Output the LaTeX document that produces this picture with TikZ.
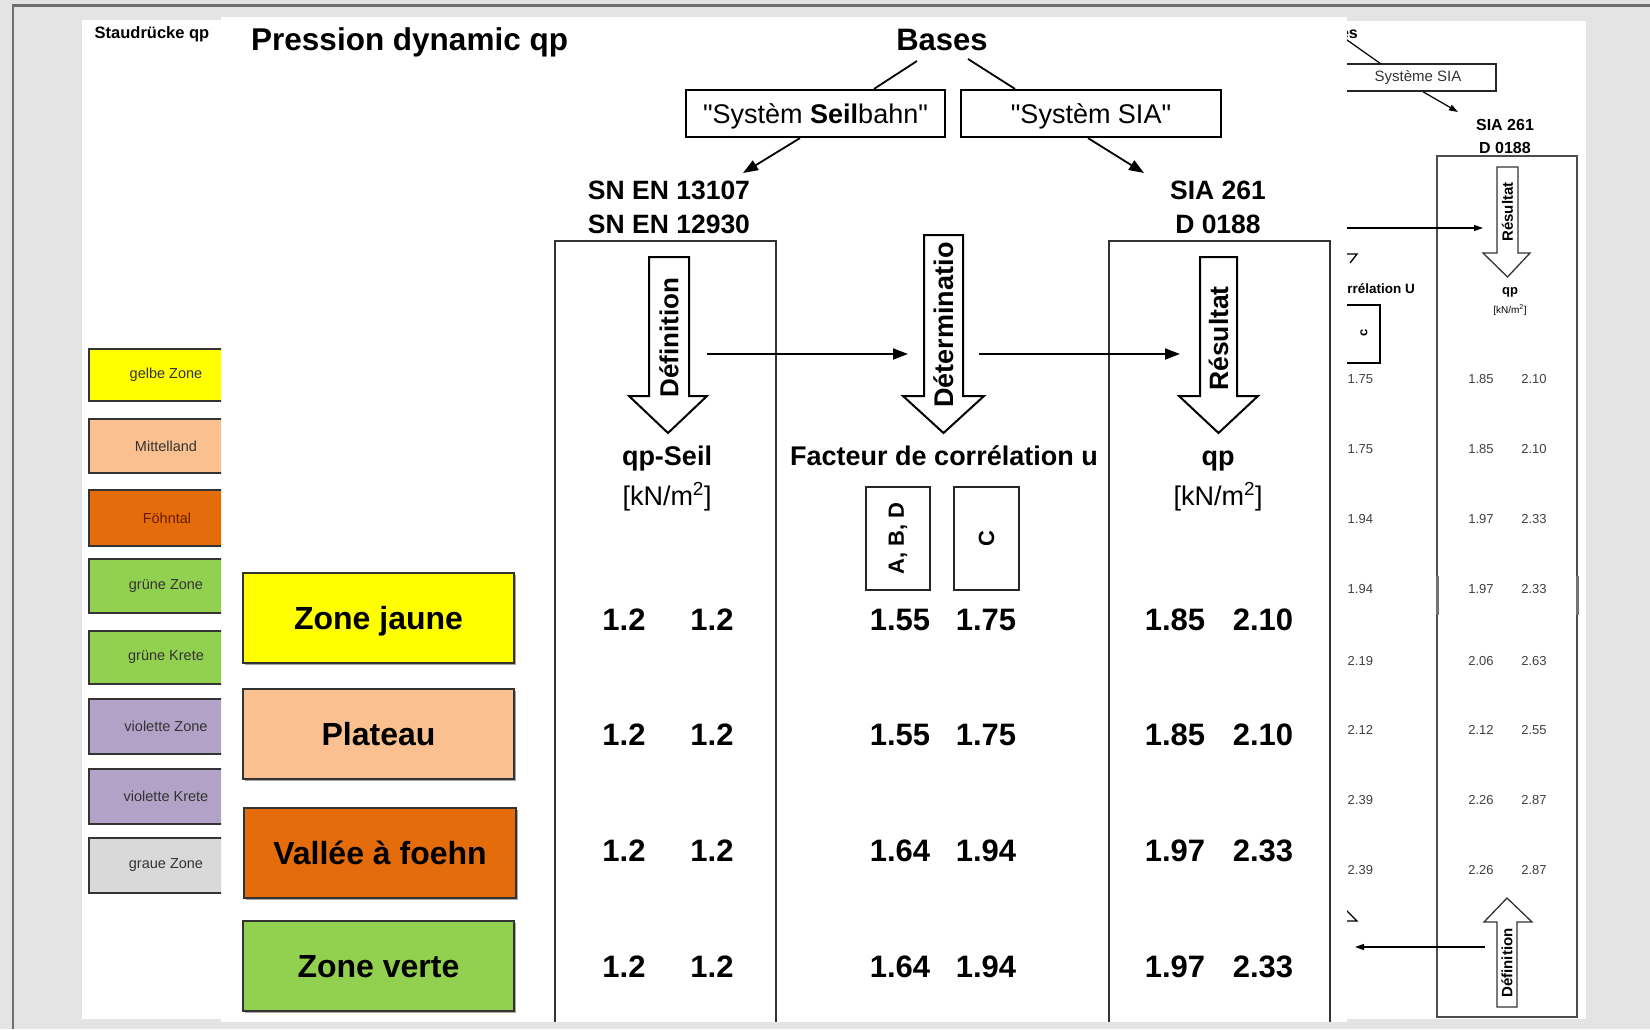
\documentclass[tikz,border=0pt]{standalone}
\usepackage{fontspec}
\setmainfont{Liberation Sans}[Ligatures=TeXOff]
\usetikzlibrary{arrows.meta,calc,shadows}
\definecolor{bggrey}{HTML}{E4E4E4}
\definecolor{frameg}{HTML}{6E6E6E}
\definecolor{zyellow}{HTML}{FFFF00}
\definecolor{zpeach}{HTML}{FAC090}
\definecolor{zorange}{HTML}{E46C0A}
\definecolor{zgreen}{HTML}{92D050}
\definecolor{zviolet}{HTML}{B3A2C7}
\definecolor{zgrey}{HTML}{D9D9D9}
\definecolor{ftxt}{HTML}{6A1A00}
\newcommand{\fsz}[1]{\fontsize{#1}{#1}\selectfont}
\begin{document}
\begin{tikzpicture}[x=1pt,y=-1pt,
  lab/.style={inner sep=0pt},
  conn/.style={line width=1.8pt, -{Triangle[length=15pt,width=11pt]}},
  thinconn/.style={line width=1.2pt, -{Triangle[length=9pt,width=6pt]}},
  blk/.style={draw=black, line width=2pt, fill=white, line join=miter},
  sblk/.style={draw=black!80, line width=1.3pt, fill=white},
  colline/.style={draw=black!80, line width=1.8pt},
  zonebox/.style={draw=black!80, line width=2pt, minimum width=271pt, minimum height=90pt, inner sep=0pt,
     font=\fsz{32}\bfseries, text height=23pt, text depth=0pt,
     drop shadow={shadow xshift=2pt, shadow yshift=-2pt, fill=black!35, opacity=1}},
  legline/.style={draw=black!80, line width=1.6pt},
  legtext/.style={inner sep=0pt, font=\fsz{14.5}, text=black!80},
  sysbox/.style={draw=black, line width=2.2pt, minimum height=47pt, inner sep=0pt, font=\fsz{27}, text height=19.3pt, text depth=0pt},
  num/.style={inner sep=0pt, font=\fsz{31}\bfseries, anchor=base},
  hdr/.style={inner sep=0pt, font=\fsz{26.5}\bfseries, anchor=base},
  smallbox/.style={draw=black!85, line width=1.8pt, minimum width=64pt, minimum height=103pt, inner sep=0pt},
  rnum/.style={inner sep=0pt, font=\fsz{13}, text=black!75, anchor=base},
]
% background
\fill[bggrey] (0,0) rectangle (1650,1029);
\useasboundingbox (0,0) rectangle (1650,1029);
\draw[frameg, line width=2.5pt] (13,1029) -- (13,5.5) -- (1650,5.5);
\fill[white] (82,20) rectangle (221,1019);
\fill[white] (221,17) rectangle (1347,1022);
\fill[white] (1347,21) rectangle (1586,1019);

% ---------------- left panel
\begin{scope}
\clip (82,20) rectangle (221,1019);
\node[lab, font=\fsz{16.5}\bfseries, anchor=base] (stau) at (152,38) {Staudrücke qp};
\draw[legline, fill=zyellow] (89,349) rectangle (260,401);
\node[legtext] (lg1) at (166,375) {gelbe Zone};
\draw[legline, fill=zpeach] (89,419) rectangle (260,473);
\node[legtext] (lg2) at (166,446) {Mittelland};
\draw[legline, fill=zorange] (89,490) rectangle (260,546);
\node[legtext, text=ftxt] (lg3) at (167,518) {Föhntal};
\draw[legline, fill=zgreen] (89,559) rectangle (260,613);
\node[legtext] (lg4) at (166,586) {grüne Zone};
\draw[legline, fill=zgreen] (89,631) rectangle (260,684);
\node[legtext] (lg5) at (166,657.5) {grüne Krete};
\draw[legline, fill=zviolet] (89,699) rectangle (260,754);
\node[legtext] (lg6) at (166,726.5) {violette Zone};
\draw[legline, fill=zviolet] (89,769) rectangle (260,824);
\node[legtext] (lg7) at (166,796.5) {violette Krete};
\draw[legline, fill=zgrey] (89,838) rectangle (260,893);
\node[legtext] (lg8) at (166,865.5) {graue Zone};
\end{scope}

% ---------------- main panel
\begin{scope}
\clip (221,17) rectangle (1347,1022);
\node[lab, font=\fsz{31.5}\bfseries, anchor=base west] (title) at (251,50) {Pression dynamic qp};
\node[lab, font=\fsz{31}\bfseries, anchor=base] (bases) at (942,50) {Bases};
\node[sysbox, minimum width=259pt] (seil) at (815.5,113.5) {"Systèm \textbf{Seil}bahn"};
\node[sysbox, minimum width=260pt] (sia) at (1091,113.5) {"Systèm SIA"};
\coordinate (bL) at (917,61);
\coordinate (bR) at (968,59);
\draw[line width=1.8pt] (bL) -- ([xshift=58.5pt]seil.north);
\draw[line width=1.8pt] (bR) -- ([xshift=-76pt]sia.north);
\coordinate (tipL) at (743,173);
\coordinate (tipR) at (1144,173);
\draw[conn] ([xshift=-15.5pt]seil.south) -- (tipL);
\draw[conn] ([xshift=-3pt]sia.south) -- (tipR);

\node[hdr] (sn1) at (669,199) {SN EN 13107};
\node[hdr] (sn2) at (669,233) {SN EN 12930};
\node[hdr] (sia1) at (1218,199) {SIA 261};
\node[hdr] (sia2) at (1218,233) {D 0188};

\draw[colline] (555,1022) -- (555,241) -- (776,241) -- (776,1022);
\draw[colline] (1109,1022) -- (1109,241) -- (1330,241) -- (1330,1022);

\draw[blk] (649,257) -- (689,257) -- (689,396) -- (707,396) -- (668,433) -- (629,396) -- (649,396) -- cycle;
\draw[blk] (924,235) -- (963,235) -- (963,396) -- (984,396) -- (943.5,433) -- (903,396) -- (924,396) -- cycle;
\draw[blk] (1200,257) -- (1237,257) -- (1237,396) -- (1258,396) -- (1218.5,433) -- (1179,396) -- (1200,396) -- cycle;
\node[lab, rotate=90, font=\fsz{26}\bfseries] (tdef) at (669,337.5) {Définition};
\node[lab, rotate=90, font=\fsz{27}\bfseries] (tdet) at (943.5,325) {Déterminatio};
\node[lab, rotate=90, font=\fsz{26.5}\bfseries] (tres) at (1218.5,338.5) {Résultat};

\coordinate (h1s) at (707,354);
\coordinate (h1e) at (908,354);
\coordinate (h2s) at (979,354);
\coordinate (h2e) at (1180,354);
\draw[conn] (h1s) -- (h1e);
\draw[conn] (h2s) -- (h2e);

\node[lab, font=\fsz{27}\bfseries, anchor=base] (qpseil) at (667,465) {qp-Seil};
\node[lab, font=\fsz{27}, anchor=base] (unit1) at (667,505) {[kN/m\textsuperscript{2}]};
\node[lab, font=\fsz{27}\bfseries, anchor=base] (fact) at (944,465) {Facteur de corrélation u};
\node[lab, font=\fsz{27}\bfseries, anchor=base] (qp) at (1218,465) {qp};
\node[lab, font=\fsz{27}, anchor=base] (unit2) at (1218,505) {[kN/m\textsuperscript{2}]};

\node[smallbox] (abd) at (898,538.5) {};
\node[lab, rotate=90, font=\fsz{22}\bfseries] (abdt) at (abd.center) {A, B, D};
\node[smallbox, minimum width=65pt] (cbox) at (986.5,538.5) {};
\node[lab, rotate=90, font=\fsz{22}\bfseries] (ct) at (cbox.center) {C};

\node[zonebox, fill=zyellow] (zj) at (378.5,618) {Zone jaune};
\node[zonebox, fill=zpeach] (zp) at (378.5,734) {Plateau};
\node[zonebox, fill=zorange, minimum width=272pt] (zv) at (380,853) {Vallée à foehn};
\node[zonebox, fill=zgreen] (zg) at (378.5,966) {Zone verte};

\foreach \yb/\a/\b/\c/\d/\e/\f [count=\i] in {630/1.2/1.2/1.55/1.75/1.85/2.10,
    745/1.2/1.2/1.55/1.75/1.85/2.10,
    861/1.2/1.2/1.64/1.94/1.97/2.33,
    977/1.2/1.2/1.64/1.94/1.97/2.33}{
  \node[num] (na\i) at (624,\yb) {\a};
  \node[num] (nb\i) at (712,\yb) {\b};
  \node[num] (nc\i) at (900,\yb) {\c};
  \node[num] (nd\i) at (986,\yb) {\d};
  \node[num] (ne\i) at (1175,\yb) {\e};
  \node[num] (nf\i) at (1263,\yb) {\f};
}
\end{scope}

% ---------------- right panel
\begin{scope}
\clip (1347,21) rectangle (1586,1019);
\node[lab, font=\fsz{16}\bfseries, anchor=base east] (rbases) at (1358,38) {Bases};
\coordinate (rl1) at (1330,28);
\node[draw=black!85, line width=1.5pt, minimum width=156pt, minimum height=27pt, inner sep=0pt, font=\fsz{15}, text=black!80] (rsys) at (1418,77.5) {Système SIA};
\draw[line width=1.2pt] (rl1) -- ([xshift=-38pt]rsys.north);
\coordinate (rtip) at (1458,112);
\draw[thinconn] ([xshift=5pt]rsys.south) -- (rtip);
\node[lab, font=\fsz{16}\bfseries, anchor=base] (rsia1) at (1505,130) {SIA 261};
\node[lab, font=\fsz{16}\bfseries, anchor=base] (rsia2) at (1505,153) {D 0188};
\draw[black!70, line width=1.4pt] (1437,156) rectangle (1577,1017);
\draw[black!55, line width=3pt] (1437,576) -- (1437,615);
\draw[black!55, line width=3pt] (1577,576) -- (1577,615);

\draw[sblk] (1497,167) -- (1518,167) -- (1518,253) -- (1530,253) -- (1507.5,277) -- (1483,253) -- (1497,253) -- cycle;
\node[lab, rotate=90, font=\fsz{15}\bfseries] (rres) at (1507.5,212) {Résultat};
\coordinate (ra1) at (1340,228);
\coordinate (ra2) at (1483,228);
\draw[thinconn] (ra1) -- (ra2);

\node[lab, font=\fsz{13}\bfseries, anchor=base] (rqp) at (1510,294) {qp};
\node[lab, font=\fsz{10}, anchor=base] (runit) at (1510,313) {[kN/m\textsuperscript{2}]};
\node[lab, font=\fsz{13.5}\bfseries, anchor=base east] (rfact) at (1415,293) {Facteur de corrélation U};
\draw[line width=1.3pt] (1347,254) -- (1357,254) -- (1350,263);
\draw[line width=1.3pt] (1320,305) rectangle (1380,363);
\node[lab, rotate=90, font=\fsz{13}\bfseries] (rc) at (1364,333) {c};

\foreach \yb/\l/\r/\s [count=\i] in {383/1.75/1.85/2.10, 453/1.75/1.85/2.10, 523/1.94/1.97/2.33,
   593/1.94/1.97/2.33, 665/2.19/2.06/2.63, 734/2.12/2.12/2.55, 804/2.39/2.26/2.87, 874/2.39/2.26/2.87}{
  \node[rnum, anchor=base west] (rl\i) at (1347.5,\yb) {\l};
  \node[rnum] (rm\i) at (1481,\yb) {\r};
  \node[rnum] (rr\i) at (1534,\yb) {\s};
}

\draw[line width=1.2pt] (1346,910) -- (1357,921) -- (1347,921);
\coordinate (rb1) at (1485,947);
\coordinate (rb2) at (1355,947);
\draw[thinconn] (rb1) -- (rb2);
\draw[sblk] (1497,1007) -- (1517,1007) -- (1517,922) -- (1532,922) -- (1507,898) -- (1484,922) -- (1497,922) -- cycle;
\node[lab, rotate=90, font=\fsz{15}\bfseries] (rdef) at (1507,963) {Définition};
\end{scope}
\end{tikzpicture}
\end{document}
